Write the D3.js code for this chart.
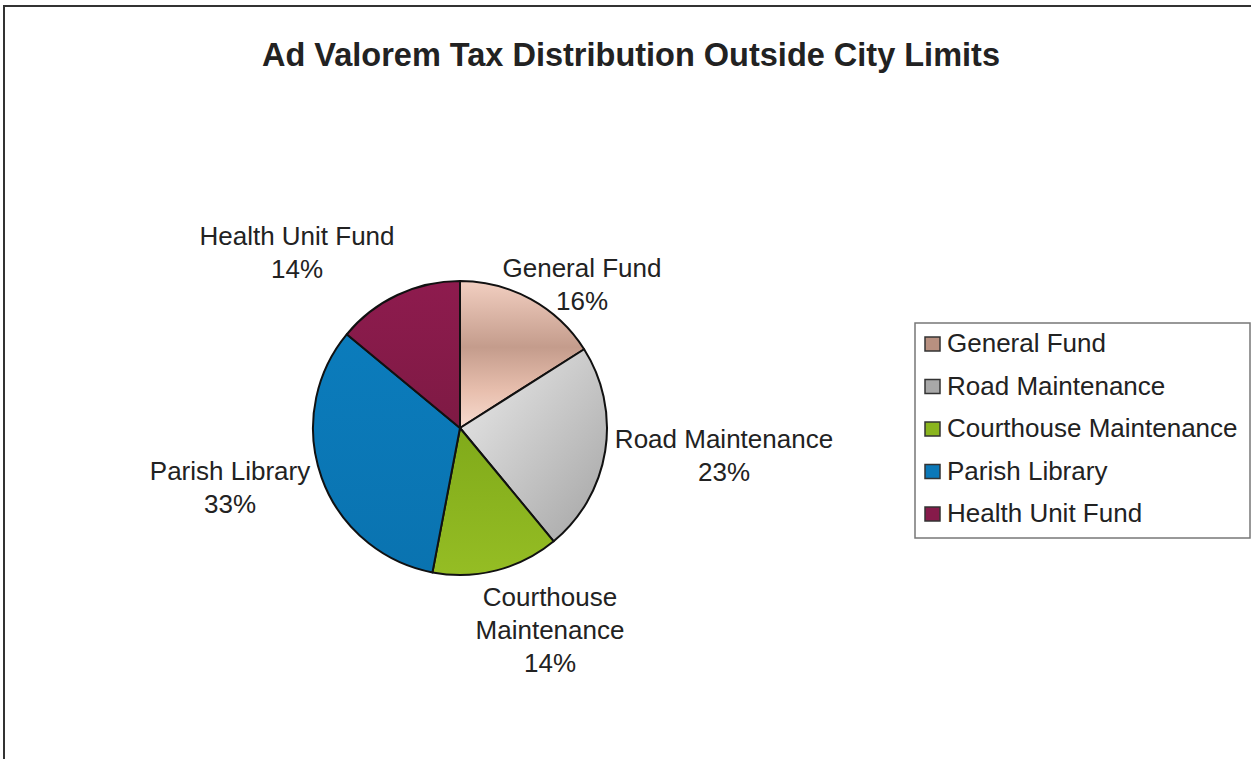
<!DOCTYPE html>
<html><head><meta charset="utf-8">
<script src="https://cdn.jsdelivr.net/npm/d3@7"></script>
<style>
html,body{margin:0;padding:0;background:#fff;}
svg{display:block;font-family:"Liberation Sans",Arial,sans-serif;}
</style></head>
<body>
<svg id="chart" width="1251" height="759"></svg>
<script>
const title = "Ad Valorem Tax Distribution Outside City Limits";
const categories = ["General Fund","Road Maintenance","Courthouse Maintenance","Parish Library","Health Unit Fund"];
const values = [16, 23, 14, 33, 14];
const labelLines = [["General Fund","16%"],["Road Maintenance","23%"],["Courthouse","Maintenance","14%"],["Parish Library","33%"],["Health Unit Fund","14%"]];

const svg = d3.select("#chart");
const W = 1251, H = 759;

// gradients
const defs = svg.append("defs");
const grads = [
  {id:"g0", x2:"0", y2:"1", stops:[[0,"#f2cfc1"],[0.45,"#c49c8c"],[0.75,"#e8bfae"],[1,"#f7dcd0"]]},
  {id:"g1", x2:"1", y2:"1", stops:[[0,"#ececec"],[0.5,"#c8c8c8"],[1,"#a4a4a4"]]},
  {id:"g2", x2:"0", y2:"1", stops:[[0,"#80aa1a"],[1,"#95bd24"]]},
  {id:"g3", x2:"0", y2:"1", stops:[[0,"#0b7cbc"],[1,"#0a73b0"]]},
  {id:"g4", x2:"0", y2:"1", stops:[[0,"#8e1b4e"],[1,"#7e1a44"]]}
];
grads.forEach(g=>{
  const lg = defs.append("linearGradient").attr("id",g.id).attr("x1","0").attr("y1","0").attr("x2",g.x2).attr("y2",g.y2);
  g.stops.forEach(s=>lg.append("stop").attr("offset",s[0]).attr("stop-color",s[1]));
});
const fills = categories.map((c,i)=>`url(#g${i})`);
const swatchColors = ["#b89080","#a8a8a8","#8ab51e","#0b78b8","#861a4a"];

// frame
svg.append("path").attr("d",`M4,${H} L4,6 L${W},6`).attr("fill","none").attr("stroke","#333").attr("stroke-width",2);

// title
svg.append("text").attr("x",631).attr("y",66).attr("text-anchor","middle")
  .attr("font-size",32.5).attr("font-weight","bold").attr("fill","#222").text(title);

// pie
const cx = 460, cy = 428, r = 147;
const pie = d3.pie().value(d=>d).sort(null);
const arc = d3.arc().innerRadius(0).outerRadius(r);
const g = svg.append("g").attr("transform",`translate(${cx},${cy})`);
const arcs = pie(values);
g.selectAll("path").data(arcs).join("path")
  .attr("d",arc).attr("fill",(d,i)=>fills[i])
  .attr("stroke","#111").attr("stroke-width",2).attr("stroke-linejoin","round");

// label block centres relative to pie centre (layout)
const labelOffsets = [[122,-144],[264,27],[90,202],[-230,59],[-163,-176]];
const lineH = 33;
arcs.forEach((a,i)=>{
  const x = cx + labelOffsets[i][0];
  const y = cy + labelOffsets[i][1];
  const lines = labelLines[i];
  const t = svg.append("text").attr("text-anchor","middle").attr("font-size",26).attr("fill","#222");
  const y0 = y - (lines.length-1)*lineH/2;
  lines.forEach((ln,k)=>{
    t.append("tspan").attr("x",x).attr("y",y0+k*lineH).attr("dy","0.35em").text(ln);
  });
});

// legend
const lg = svg.append("g");
lg.append("rect").attr("x",915).attr("y",323).attr("width",335).attr("height",215)
  .attr("fill","#fff").attr("stroke","#777").attr("stroke-width",1.5);
const ly = d3.scalePoint().domain(categories).range([343,513]);
categories.forEach((c,i)=>{
  lg.append("rect").attr("x",925).attr("y",ly(c)-6).attr("width",15).attr("height",14)
    .attr("fill",swatchColors[i]).attr("stroke","#333").attr("stroke-width",1.5);
  lg.append("text").attr("x",947).attr("y",ly(c)).attr("dy","0.35em")
    .attr("font-size",26).attr("fill","#222").text(c);
});
</script>
</body></html>
